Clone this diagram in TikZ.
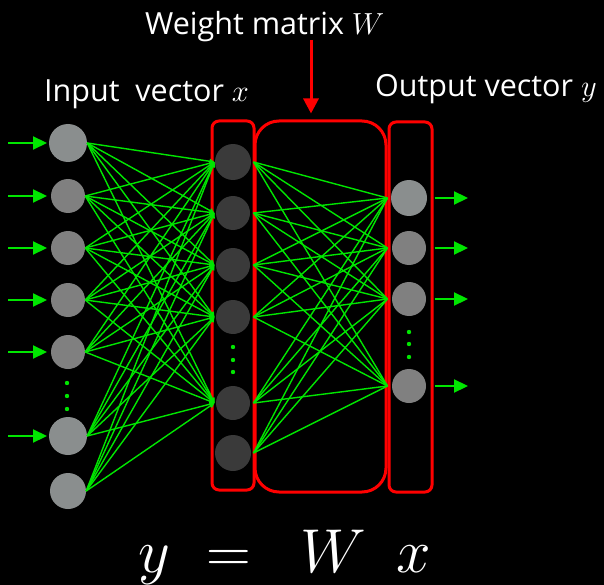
\RequirePackage{fix-cm}
\documentclass[tikz,border=0pt]{standalone}
\usepackage{fontspec}
\setmainfont{Open Sans}
\usepackage{xcolor}
\definecolor{netgreen}{RGB}{0, 230,  0}
\definecolor{boxred}{RGB}{255,  0,  0}
\definecolor{litegray}{RGB}{138, 142, 142}
\definecolor{midgray}{RGB}{128, 128, 128}
\definecolor{hidgray}{RGB}{ 58,  58,  58}
\usepackage{tikz}
\usetikzlibrary{arrows.meta, positioning, backgrounds}
\tikzset{
  neuron/.style={circle, inner sep=0pt, minimum size=34pt},
  redbox/.style={draw=boxred, line width=3pt, inner sep=0pt},
  link/.style={draw=netgreen, line width=1.4pt},
  linkin/.style={link, -{Triangle[width=5pt,length=5pt]}},
  flowarrow/.style={draw=netgreen, line width=2.2pt,
    -{Triangle[width=13pt,length=14pt]}},
  redarrow/.style={draw=boxred, line width=3pt,
    -{Triangle[width=15pt,length=15pt]}},
  labeltext/.style={text=white, inner sep=0pt, anchor=base west,
    font=\fontsize{30.5}{36}\selectfont},
  netdot/.style={fill=netgreen}
}

\begin{document}
\begin{tikzpicture}[x=1pt,y=-1pt]

  \fill[black] (0,0) rectangle (604,585);
  \useasboundingbox (0,0) rectangle (604,585);

  % layer frames
  \node[redbox, minimum width=42pt, minimum height=369pt, rounded corners=7pt]
    (xbox) at (233,305.5) {};
  \node[redbox, minimum width=131pt, minimum height=371pt, rounded corners=24pt]
    (wbox) at (320.5,306.5) {};
  \node[redbox, minimum width=43pt, minimum height=370pt, rounded corners=7pt]
    (ybox) at (410.5,307) {};

  % neurons
  \foreach \n/\yy/\s/\c in {1/143/38/litegray, 2/196/34/midgray, 3/248/34/midgray,
      4/300/34/midgray, 5/352/34/midgray, 6/436/38/litegray, 7/491/36/litegray}
    \node[neuron, fill=\c, minimum size=\s pt] (in\n) at (68,\yy) {};
  \foreach \n/\yy/\s in {1/162/36, 2/213/34, 3/265/34, 4/317/34, 5/403/34, 6/453/36}
    \node[neuron, fill=hidgray, minimum size=\s pt] (hid\n) at (233,\yy) {};
  \foreach \n/\yy/\s/\c in {1/198/36/litegray, 2/248/34/midgray, 3/299/34/midgray,
      4/386/34/midgray}
    \node[neuron, fill=\c, minimum size=\s pt] (out\n) at (409,\yy) {};

  % dots between neurons
  \foreach \yy in {383,396,409} \fill[netdot] (67,\yy) circle (2.2pt);
  \foreach \yy in {347,360,372} \fill[netdot] (233,\yy) circle (2.2pt);
  \foreach \yy in {332,344,357} \fill[netdot] (409,\yy) circle (2.2pt);

  % weights
  \foreach \i in {1,...,7}
    \foreach \j in {1,...,5}
      \draw[linkin] (in\i.east) -- ([xshift=4pt]hid\j -| xbox.west);
  \foreach \i in {1,...,6}
    \foreach \j in {1,...,4}
      \draw[link] (hid\i -| wbox.west) -- (out\j -| wbox.east);

  % inputs and outputs
  \coordinate (inleft) at (8,0);
  \coordinate (intip) at (47,0);
  \coordinate (outtip) at (468,0);
  \foreach \i in {1,...,6}
    \draw[flowarrow] (inleft |- in\i) -- (intip |- in\i);
  \foreach \j in {1,...,4}
    \draw[flowarrow] ([xshift=1pt]ybox.east |- out\j) -- (outtip |- out\j);

  % labels
  \node[labeltext] (xlabel) at (44,102) {Input\ \ vector $x$};
  \node[labeltext] (ylabel) at (375,97) {Output vector $y$};
  \node[labeltext] (wlabel) at (145,35) {Weight matrix $W$};
  \coordinate (wtop) at (311,40);
  \draw[redarrow] (wtop) -- ([yshift=6pt]wtop |- wbox.north);

  \node[text=white, inner sep=0pt, anchor=base west, font=\fontsize{62}{70}\selectfont]
    (eq) at (138,572) {$y\hspace{36pt}{=}\hspace{50pt}W\hspace{30pt}x$};

\end{tikzpicture}
\end{document}
